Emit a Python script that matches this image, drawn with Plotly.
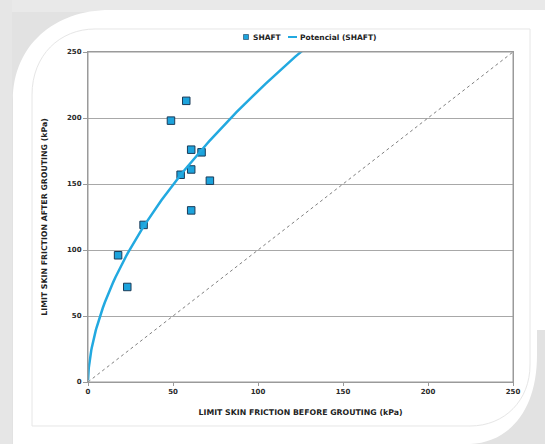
import numpy as np
import plotly.graph_objects as go

# Data
before_kpa = [17.7, 23.1, 32.7, 48.8, 54.5, 57.8, 60.7, 60.7, 60.7, 66.8, 71.7]
after_kpa = [96, 72, 119, 198, 157, 213, 176, 161, 130, 174, 152.5]
x_ticks = [0, 50, 100, 150, 200, 250]
y_ticks = [0, 50, 100, 150, 200, 250]
series_name = "SHAFT"
trend_name = "Potencial (SHAFT)"

# Power trendline (least squares in log space, as a spreadsheet "Potencial" trend)
b, lna = np.polyfit(np.log(before_kpa), np.log(after_kpa), 1)
a = np.exp(lna)
xt = np.concatenate([np.geomspace(0.01, 5, 60), np.linspace(5, 250, 200)])
yt = a * xt ** b

W, H = 545, 444
ML, MR, MT, MB = 88, 32, 52, 62
PW, PH = W - ML - MR, H - MT - MB


def px(x):
    return (x - ML) / PW


def py(y):
    return (H - MB - y) / PH


fig = go.Figure()

fig.add_trace(go.Scatter(
    x=[0, 250], y=[0, 250], mode="lines",
    line=dict(color="#7f7f7f", width=1, dash="dot"),
    showlegend=False, hoverinfo="skip"))

fig.add_trace(go.Scatter(
    x=before_kpa, y=after_kpa, mode="markers", name=series_name,
    marker=dict(symbol="square", size=7.5, color="#1ca3dc",
                line=dict(color="#1b3b58", width=1)),
    showlegend=False))

fig.add_trace(go.Scatter(
    x=xt, y=yt, mode="lines", name=trend_name,
    line=dict(color="#22a9e0", width=2.5), showlegend=False))


def P(x, y):
    return f"{px(x):.5f},{py(y):.5f}"


card = (f"M {P(13, 450)} L {P(13, 100)} C {P(13, 45)} {P(55, 10)} {P(110, 10)} "
        f"L {P(550, 10)} L {P(550, 330)} L {P(537, 330)} L {P(537, 355)} "
        f"C {P(537, 410)} {P(510, 442)} {P(470, 444)} L {P(460, 450)} Z")
inner = (f"M {P(32, 426)} L {P(32, 95)} C {P(32, 55)} {P(60, 29)} {P(95, 29)} "
         f"L {P(530, 29)} L {P(530, 365)} C {P(530, 400)} {P(505, 426)} {P(470, 426)} Z")

LY = 37
shapes = [
    dict(type="rect", xref="paper", yref="paper", x0=px(-5), x1=px(550), y0=py(450), y1=py(-5),
         fillcolor="#e2e2e2", line=dict(width=0), layer="below"),
    dict(type="rect", xref="paper", yref="paper", x0=px(-5), x1=px(550), y0=py(12), y1=py(-5),
         fillcolor="#e9e9e9", line=dict(width=0), layer="below"),
    dict(type="rect", xref="paper", yref="paper", x0=px(-5), x1=px(12), y0=py(450), y1=py(-5),
         fillcolor="#e6e6e6", line=dict(width=0), layer="below"),
    dict(type="path", xref="paper", yref="paper", path=card,
         fillcolor="#ffffff", line=dict(width=0), layer="below"),
    dict(type="path", xref="paper", yref="paper", path=inner,
         fillcolor="#ffffff", line=dict(color="#e6e6e6", width=1), layer="below"),
    dict(type="rect", xref="paper", yref="paper", x0=0, x1=1, y0=0, y1=1,
         fillcolor="rgba(0,0,0,0)", line=dict(color="#9a9a9a", width=1), layer="above"),
    # legend glyphs
    dict(type="rect", xref="paper", yref="paper", x0=px(243.5), x1=px(248.5), y0=py(LY + 2.5), y1=py(LY - 2.5),
         fillcolor="#1ca3dc", line=dict(color="#1b3b58", width=0.6)),
    dict(type="line", xref="paper", yref="paper", x0=px(288), x1=px(297), y0=py(LY), y1=py(LY),
         line=dict(color="#22a9e0", width=2)),
]

tick_font = dict(family="DejaVu Sans", size=7, color="#2a2a2a", weight="bold")
title_font = dict(family="DejaVu Sans", size=7.8, color="#222222", weight="bold")
leg_font = dict(family="DejaVu Sans", size=7.5, color="#222222", weight="bold")

annotations = [
    dict(xref="paper", yref="paper", x=px(251), y=py(LY), text=series_name, showarrow=False,
         xanchor="left", yanchor="middle", font=leg_font),
    dict(xref="paper", yref="paper", x=px(297.5), y=py(LY), text=trend_name, showarrow=False,
         xanchor="left", yanchor="middle", font=leg_font),
]

fig.update_layout(
    width=W, height=H,
    margin=dict(l=ML, r=MR, t=MT, b=MB, pad=0, autoexpand=False),
    paper_bgcolor="#e2e2e2",
    plot_bgcolor="#ffffff",
    shapes=shapes,
    annotations=annotations,
    showlegend=False,
    xaxis=dict(range=[0, 250], tickvals=x_ticks, showgrid=False, zeroline=False,
               showline=True, linecolor="#9a9a9a", linewidth=1, mirror=True,
               ticks="outside", ticklen=3, tickcolor="#9a9a9a", automargin=False,
               tickfont=tick_font,
               title=dict(text="LIMIT SKIN FRICTION BEFORE GROUTING (kPa)", font=title_font, standoff=14)),
    yaxis=dict(range=[0, 250], tickvals=y_ticks, showgrid=True, gridcolor="#a8a8a8", gridwidth=1,
               zeroline=False, showline=True, linecolor="#9a9a9a", linewidth=1, mirror=True,
               ticks="outside", ticklen=4, tickcolor="#9a9a9a", automargin=False,
               tickfont=tick_font,
               title=dict(text="LIMIT SKIN FRICTION AFTER GROUTING (kPa)", font=title_font, standoff=18)),
)

fig.write_html("out.html",
               config={"displayModeBar": False},
               post_script="document.body.style.margin='0';document.body.style.overflow='hidden';")
